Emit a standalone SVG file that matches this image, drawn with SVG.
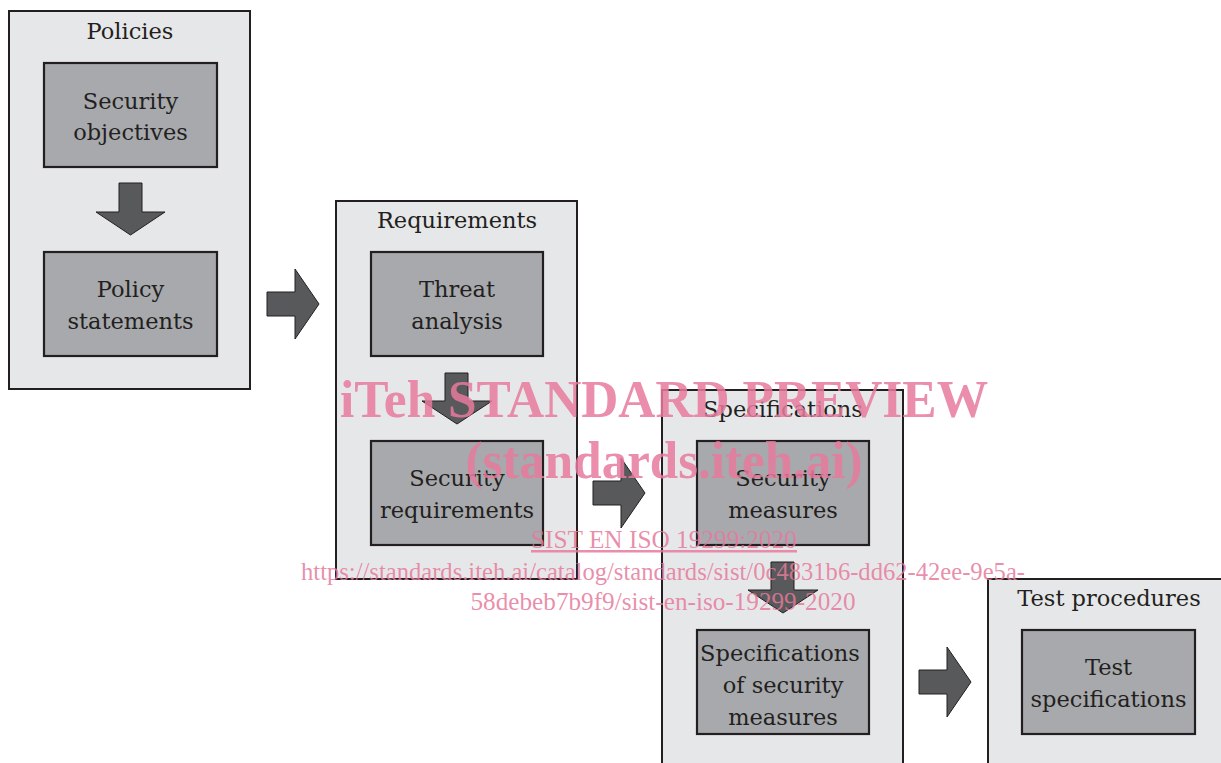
<svg xmlns="http://www.w3.org/2000/svg" width="1221" height="763" viewBox="0 0 1221 763">
<style>
.outer{fill:#e6e7e8;stroke:#231f20;stroke-width:2}
.inner{fill:#a7a9ac;stroke:#231f20;stroke-width:2.2}
.arr{fill:#58595b;stroke:#231f20;stroke-width:1}
.t{font-family:"DejaVu Serif",serif;font-size:22.5px;fill:#231f20;text-anchor:middle}
.wm{font-family:"Liberation Serif",serif;fill:#e67a9c;fill-opacity:0.85;text-anchor:middle}
.wb{font-weight:bold;font-size:52px}
.wr{font-size:25px}
</style>
<rect width="1221" height="763" fill="#ffffff"/>
<g id="policies">
<rect class="outer" x="9" y="11" width="241" height="378"/>
<text class="t" x="130" y="39">Policies</text>
</g>
<g id="security-objectives">
<rect class="inner" x="44" y="63" width="173" height="104"/>
<text class="t" x="130.5" y="109">Security</text>
<text class="t" x="130.5" y="140">objectives</text>
</g>
<g id="policy-statements">
<rect class="inner" x="44" y="252" width="173" height="104"/>
<text class="t" x="130.5" y="297">Policy</text>
<text class="t" x="130.5" y="329">statements</text>
</g>
<g id="requirements">
<rect class="outer" x="336" y="201" width="241" height="378"/>
<text class="t" x="457" y="228">Requirements</text>
</g>
<g id="threat-analysis">
<rect class="inner" x="371" y="252" width="172" height="104"/>
<text class="t" x="457" y="297">Threat</text>
<text class="t" x="457" y="329">analysis</text>
</g>
<g id="security-requirements">
<rect class="inner" x="371" y="441" width="172" height="104"/>
<text class="t" x="457" y="486">Security</text>
<text class="t" x="457" y="518">requirements</text>
</g>
<g id="specifications">
<rect class="outer" x="662" y="390" width="241" height="378"/>
<text class="t" x="783" y="417">Specifications</text>
</g>
<g id="security-measures">
<rect class="inner" x="697" y="441" width="172" height="104"/>
<text class="t" x="783" y="486">Security</text>
<text class="t" x="783" y="518">measures</text>
</g>
<g id="specifications-of-security-measures">
<rect class="inner" x="697" y="630" width="172" height="104"/>
<text class="t" x="780" y="661">Specifications</text>
<text class="t" x="783" y="693">of security</text>
<text class="t" x="783" y="725">measures</text>
</g>
<g id="test-procedures">
<rect class="outer" x="988" y="579" width="241" height="378"/>
<text class="t" x="1109" y="606">Test procedures</text>
</g>
<g id="test-specifications">
<rect class="inner" x="1022" y="630" width="173" height="104"/>
<text class="t" x="1108.5" y="675">Test</text>
<text class="t" x="1108.5" y="707">specifications</text>
</g>
<g id="connectors">
<polygon class="arr" points="119,183 142,183 142,212 165,212 130.5,235 96,212 119,212"/>
<polygon class="arr" points="445,373 468,373 468,401 492,401 457,424 422,401 445,401"/>
<polygon class="arr" points="771,562 794,562 794,590 818,590 783,613 748,590 771,590"/>
<polygon class="arr" points="267,292 295,292 295,269 319,304 295,339 295,316 267,316"/>
<polygon class="arr" points="593,481 621,481 621,458 645,493 621,528 621,505 593,505"/>
<polygon class="arr" points="919,670 947,670 947,647 971,682 947,717 947,694 919,694"/>
</g>
<g id="watermark">
<text class="wm wb" x="664" y="417" textLength="648" lengthAdjust="spacingAndGlyphs">iTeh STANDARD PREVIEW</text>
<text class="wm wb" x="664" y="478" textLength="397" lengthAdjust="spacingAndGlyphs">(standards.iteh.ai)</text>
<text class="wm wr" x="664" y="548" textLength="266" lengthAdjust="spacingAndGlyphs" text-decoration="underline">SIST EN ISO 19299:2020</text>
<text class="wm wr" x="663" y="580" textLength="724" lengthAdjust="spacingAndGlyphs">https://standards.iteh.ai/catalog/standards/sist/0c4831b6-dd62-42ee-9e5a-</text>
<text class="wm wr" x="663" y="610" textLength="385" lengthAdjust="spacingAndGlyphs">58debeb7b9f9/sist-en-iso-19299-2020</text>
</g>
</svg>
